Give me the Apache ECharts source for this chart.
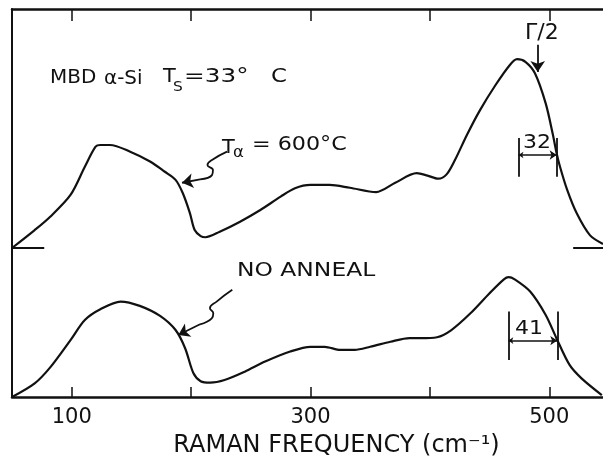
<!DOCTYPE html>
<html><head><meta charset="utf-8">
<script src="https://cdn.jsdelivr.net/npm/echarts@6/dist/echarts.min.js"></script>
<style>html,body{margin:0;padding:0;background:#fff}#c{width:603px;height:464px}</style>
</head><body><div id="c"></div>
<script>
// ---- data (Raman shift in cm^-1, intensity in arbitrary units) ----
const freqAnnealed = [50, 69, 82, 99, 111, 120, 124, 132, 149, 166, 178, 187, 193, 199, 203, 208, 212, 224, 241, 258, 275, 287, 300, 316, 333, 355, 371, 389, 398, 407, 414, 421, 431, 442, 455, 467, 473, 480, 488, 497, 503, 506, 509, 515, 523, 534, 545];
const intAnnealed  = [0, 7.5, 13.1, 22.2, 34.0, 42.4, 43.1, 43.1, 40.3, 36.1, 31.9, 28.5, 23.0, 14.6, 7.5, 5.0, 4.5, 6.8, 11.0, 15.9, 21.5, 25.0, 26.4, 26.4, 25.2, 23.4, 27.3, 31.3, 30.3, 29.0, 30.8, 36.8, 47.3, 57.7, 68.2, 76.6, 79.0, 77.9, 73.1, 60.5, 47.5, 40.0, 34.0, 24.3, 14.5, 5.4, 1.7];
const freqNoAnneal = [50, 69, 82, 99, 111, 124, 141, 157, 174, 187, 195, 202, 208, 216, 228, 245, 262, 283, 300, 312, 325, 337, 350, 367, 383, 392, 406, 418, 434, 450, 462, 466, 471, 484, 497, 506, 517, 527, 544];
const intNoAnneal  = [0, 5.7, 12.4, 23.8, 32.2, 36.7, 39.9, 38.1, 33.9, 28.0, 20.4, 9.9, 6.6, 6.0, 7.1, 10.6, 14.8, 19.0, 21.0, 21.0, 19.7, 19.7, 21.0, 23.1, 24.6, 24.6, 25.0, 28.0, 35.0, 43.4, 49.2, 50.1, 49.2, 44.1, 34.3, 24.6, 13.4, 7.8, 0.8];
const tickValues  = [100, 200, 300, 400, 500];
const labelValues = [100, 300, 500];
const halfWidthAnnealed = 32;   // Γ/2 marked on annealed spectrum
const halfWidthNoAnneal = 41;   // Γ/2 marked on unannealed spectrum

// ---- annotation anchors (data coordinates) ----
const halfPosA = 506.2, halfLevelA = 38.9;
const halfPosB = 506.7, halfLevelB = 23.6;
const squiggleA = [[230.1,40.3],[217.5,36.8],[213.7,34.7],[218.3,32.6],[217.5,30.5],[207.5,28.7]];
const squiggleATip = [192.4,27.3];
const squiggleB = [[234.5,44.8],[221.4,39.9],[215.8,37.1],[218.6,35.0],[217.3,32.9],[207.5,30.4]];
const squiggleBTip = [189.3,25.9];

const zip = (a, b) => a.map((v, i) => [v, b[i]]);
const INK = '#111';
const FONT = 'DejaVu Sans';

const chart = echarts.init(document.getElementById('c'), null, {renderer: 'canvas'});

function txt(text, x, y, size, sx, rot) {
  return {type: 'text', x: x, y: y, scaleX: sx || 1, rotation: rot || 0,
    style: {text: text, fontSize: size, fontFamily: FONT, fill: INK, align: 'left', verticalAlign: 'middle'}};
}

const xBase = {type: 'value', min: 50, max: 545, splitLine: {show: false}};
const yBase = {type: 'value', min: 0, splitLine: {show: false}, axisTick: {show: false}, axisLabel: {show: false},
  axisLine: {show: true, onZero: false, lineStyle: {color: INK, width: 2}}};

const lineStyle = {color: INK, width: 2.2};

chart.setOption({
  animation: false,
  backgroundColor: '#fff',
  grid: [
    {left: 12, right: 0, top: 9, height: 239},
    {left: 12, right: 0, top: 248, height: 149}
  ],
  xAxis: [
    Object.assign({}, xBase, {gridIndex: 0, position: 'top',
      axisLine: {show: true, onZero: false, lineStyle: {color: INK, width: 2.5}},
      axisTick: {show: true, inside: true, length: 12, customValues: tickValues, lineStyle: {color: INK, width: 1.5}},
      axisLabel: {show: false}}),
    Object.assign({}, xBase, {gridIndex: 1, position: 'bottom',
      axisLine: {show: true, onZero: false, lineStyle: {color: INK, width: 2.5}},
      axisTick: {show: true, inside: true, length: 10, customValues: tickValues, lineStyle: {color: INK, width: 1.5}},
      axisLabel: {show: true, customValues: labelValues, margin: 10, color: INK, fontSize: 21, fontFamily: FONT},
      name: 'RAMAN FREQUENCY (cm⁻¹)', nameLocation: 'middle', nameGap: 37,
      nameTextStyle: {color: INK, fontSize: 24, fontFamily: FONT, padding: [0, 0, 0, 58]}})
  ],
  yAxis: [
    Object.assign({}, yBase, {gridIndex: 0, max: 100}),
    Object.assign({}, yBase, {gridIndex: 1, max: 62.3})
  ],
  series: [
    {type: 'line', name: 'Ta = 600°C', xAxisIndex: 0, yAxisIndex: 0, data: zip(freqAnnealed, intAnnealed),
      smooth: 0.3, symbol: 'none', clip: false, lineStyle: lineStyle,
      markLine: {silent: true, symbol: 'none', label: {show: false}, lineStyle: {color: INK, width: 2, type: 'solid'},
        data: [[{coord: [50, 0]}, {coord: [77, 0]}], [{coord: [520, 0]}, {coord: [545, 0]}]]}},
    {type: 'line', name: 'NO ANNEAL', xAxisIndex: 1, yAxisIndex: 1, data: zip(freqNoAnneal, intNoAnneal),
      smooth: 0.3, symbol: 'none', clip: false, lineStyle: lineStyle},
    {type: 'line', xAxisIndex: 0, yAxisIndex: 0, data: squiggleA, smooth: 0.5, symbol: 'none', clip: false,
      lineStyle: {color: INK, width: 1.8}},
    {type: 'line', xAxisIndex: 1, yAxisIndex: 1, data: squiggleB, smooth: 0.5, symbol: 'none', clip: false,
      lineStyle: {color: INK, width: 1.8}},
    // single-headed arrows, top panel
    {type: 'lines', coordinateSystem: 'cartesian2d', xAxisIndex: 0, yAxisIndex: 0, symbol: ['none', 'arrow'], symbolSize: [7, 11],
      lineStyle: {color: INK, width: 1.8, opacity: 1}, silent: true,
      data: [{coords: [squiggleA[squiggleA.length - 1], squiggleATip]},
             {coords: [[490.3, 85], [490.3, 73.6]]}]},
    // double-headed half-width arrow, top panel
    {type: 'lines', coordinateSystem: 'cartesian2d', xAxisIndex: 0, yAxisIndex: 0, symbol: ['arrow', 'arrow'], symbolSize: [5, 7],
      lineStyle: {color: INK, width: 1.6, opacity: 1}, silent: true,
      data: [{coords: [[halfPosA - halfWidthAnnealed, halfLevelA], [halfPosA, halfLevelA]]}]},
    // bracket bars, top panel
    {type: 'lines', coordinateSystem: 'cartesian2d', xAxisIndex: 0, yAxisIndex: 0, symbol: 'none',
      lineStyle: {color: INK, width: 1.8, opacity: 1}, silent: true,
      data: [{coords: [[halfPosA - halfWidthAnnealed, 46], [halfPosA - halfWidthAnnealed, 29.8]]},
             {coords: [[halfPosA, 46], [halfPosA, 29.8]]}]},
    // single-headed arrow, bottom panel
    {type: 'lines', coordinateSystem: 'cartesian2d', xAxisIndex: 1, yAxisIndex: 1, symbol: ['none', 'arrow'], symbolSize: [7, 11],
      lineStyle: {color: INK, width: 1.8, opacity: 1}, silent: true,
      data: [{coords: [squiggleB[squiggleB.length - 1], squiggleBTip]}]},
    {type: 'lines', coordinateSystem: 'cartesian2d', xAxisIndex: 1, yAxisIndex: 1, symbol: ['arrow', 'arrow'], symbolSize: [5, 7],
      lineStyle: {color: INK, width: 1.6, opacity: 1}, silent: true,
      data: [{coords: [[halfPosB - halfWidthNoAnneal, halfLevelB], [halfPosB, halfLevelB]]}]},
    {type: 'lines', coordinateSystem: 'cartesian2d', xAxisIndex: 1, yAxisIndex: 1, symbol: 'none',
      lineStyle: {color: INK, width: 1.8, opacity: 1}, silent: true,
      data: [{coords: [[halfPosB - halfWidthNoAnneal, 35.7], [halfPosB - halfWidthNoAnneal, 15.5]]},
             {coords: [[halfPosB, 35.7], [halfPosB, 15.5]]}]}
  ],
  graphic: [
    txt('MBD', 50, 78, 19, 1.05),
    txt('α-Si', 104, 79, 19, 1.05),
    txt('T', 163, 77, 19, 1.1),
    txt('S', 173, 87, 14, 1.1),
    txt('=33°', 184, 77, 19, 1.3),
    txt('C', 271, 77, 19, 1.2),
    txt('T', 222, 148, 19, 1.1),
    txt('α', 233, 153, 15, 1.1),
    txt('= 600°C', 252, 145, 19, 1.17),
    txt('Γ/2', 525, 33.5, 22, 1.0),
    txt(String(halfWidthAnnealed), 523, 143, 20, 1.1),
    txt(String(halfWidthNoAnneal), 515, 329, 20, 1.1),
    txt('NO ANNEAL', 237, 271, 20, 1.17)
  ]
});
</script>
</body></html>
